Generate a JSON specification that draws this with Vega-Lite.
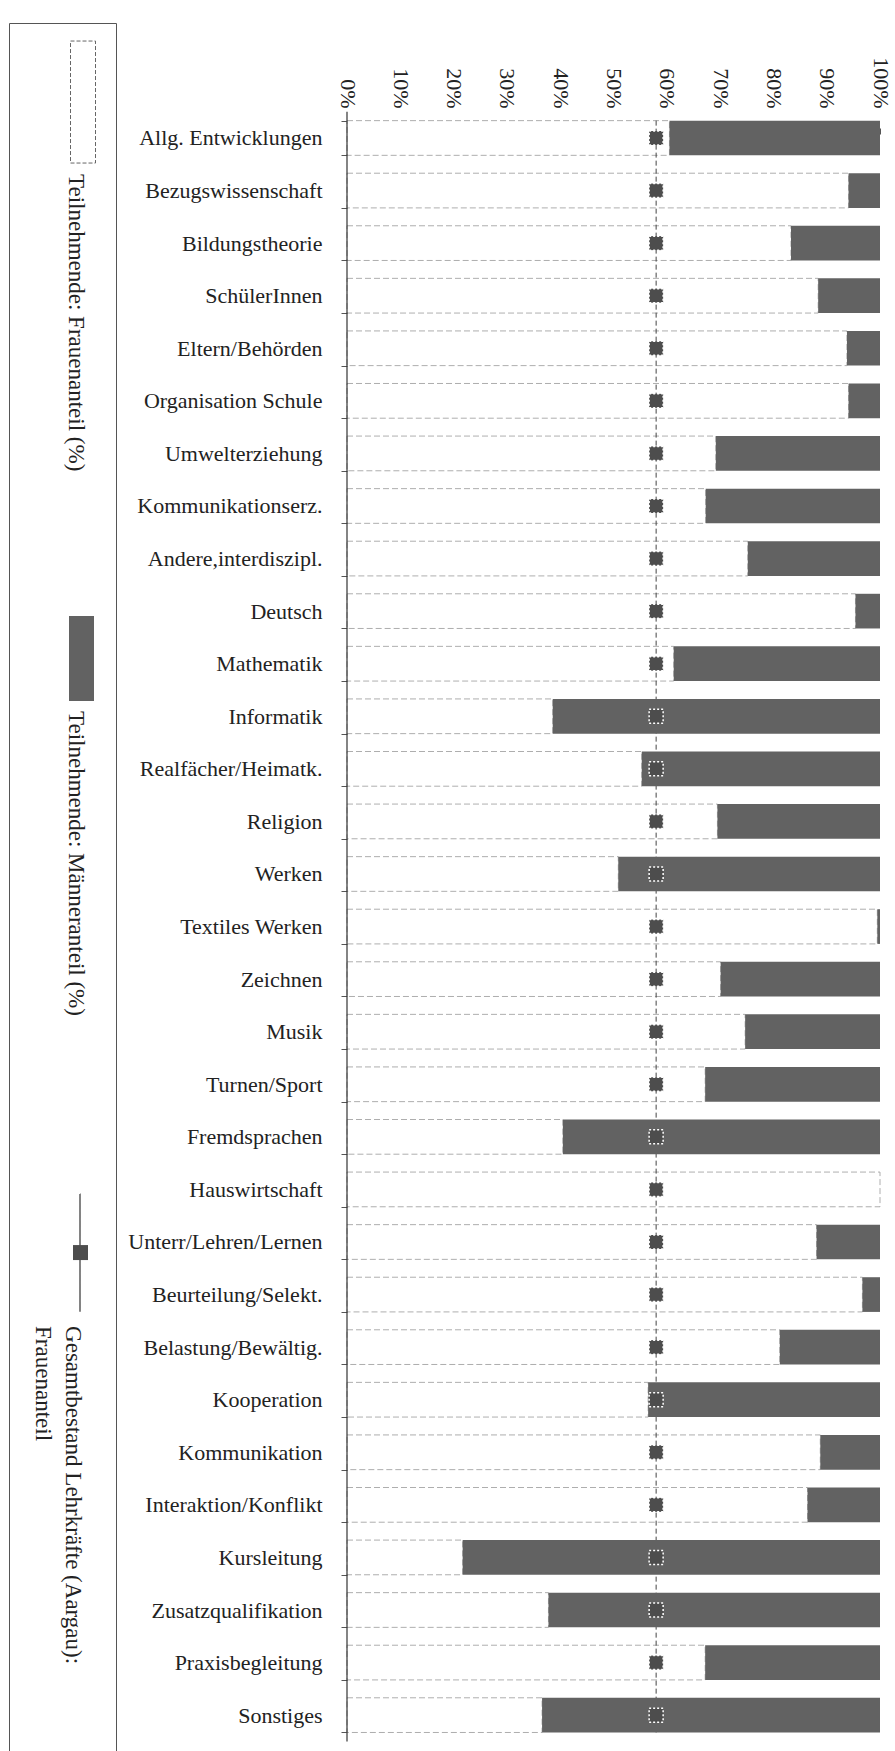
{
  "$schema": "https://vega.github.io/schema/vega-lite/v6.json",
  "padding": {"left": 8, "top": 12, "right": 5, "bottom": 5},
  "background": "white",
  "spacing": 10,
  "config": {"view": {"stroke": null}, "font": "Liberation Serif"},
  "hconcat": [
    {
      "width": 107,
      "height": 1733,
      "view": {"stroke": "#555", "strokeWidth": 1},
      "data": {"values": [
        {"eintrag": "Frauen", "text": "Teilnehmende: Frauenanteil (%)"},
        {"eintrag": "Männer", "text": "Teilnehmende: Männeranteil (%)"},
        {"eintrag": "Gesamt", "text": "Gesamtbestand Lehrkräfte (Aargau):\nFrauenanteil"}
      ]},
      "encoding": {
        "y": {"field": "eintrag", "type": "nominal", "sort": null,
              "scale": {"type": "band", "domain": ["Frauen", "Männer", "Gesamt"], "paddingInner": 0, "paddingOuter": 0},
              "axis": null},
        "x": {"datum": "Legende", "type": "nominal", "scale": {"type": "point", "domain": ["Legende"], "padding": 0}, "axis": null}
      },
      "layer": [
        {
          "transform": [{"filter": "datum.eintrag === 'Frauen'"}],
          "mark": {"type": "rect", "width": 25, "height": 122, "xOffset": 20.5, "yOffset": -209.8, "fill": "white", "stroke": "#666", "strokeWidth": 1, "strokeDash": [4, 2]}
        },
        {
          "transform": [{"filter": "datum.eintrag === 'Männer'"}],
          "mark": {"type": "rect", "width": 25, "height": 85, "xOffset": 19, "yOffset": -231, "fill": "#626262"}
        },
        {
          "transform": [{"filter": "datum.eintrag === 'Gesamt'"}],
          "mark": {"type": "rect", "width": 0.01, "height": 117, "xOffset": 17.5, "yOffset": -214.6, "fill": "transparent", "stroke": "#333", "strokeWidth": 1.2, "strokeDash": [6, 3]}
        },
        {
          "transform": [{"filter": "datum.eintrag === 'Gesamt'"}],
          "mark": {"type": "point", "shape": "square", "size": 225, "filled": true, "fill": "#4d4d4d", "opacity": 1, "xOffset": 18, "yOffset": -214.6}
        },
        {
          "transform": [{"filter": "datum.eintrag === 'Frauen'"}],
          "mark": {"type": "text", "angle": 90, "align": "left", "baseline": "alphabetic", "font": "Liberation Serif", "fontSize": 23, "color": "#222", "xOffset": 6.5, "yOffset": -137.8},
          "encoding": {"text": {"field": "text"}}
        },
        {
          "transform": [{"filter": "datum.eintrag === 'Männer'"}],
          "mark": {"type": "text", "angle": 90, "align": "left", "baseline": "alphabetic", "font": "Liberation Serif", "fontSize": 23, "color": "#222", "xOffset": 6.5, "yOffset": -178.5},
          "encoding": {"text": {"field": "text"}}
        },
        {
          "transform": [{"filter": "datum.eintrag === 'Gesamt'"}],
          "mark": {"type": "text", "angle": 90, "align": "left", "baseline": "alphabetic", "font": "Liberation Serif", "fontSize": 23, "color": "#222", "xOffset": 3.5, "yOffset": -141.1, "lineBreak": "\n", "lineHeight": 30},
          "encoding": {"text": {"field": "text"}}
        }
      ]
    },
    {
      "width": 533,
      "height": 1717,
      "data": {"values": [
        {"kategorie": "Allg. Entwicklungen", "frauen": 60.5, "gesamt": 58},
        {"kategorie": "Bezugswissenschaft", "frauen": 94.1, "gesamt": 58},
        {"kategorie": "Bildungstheorie", "frauen": 83.3, "gesamt": 58},
        {"kategorie": "SchülerInnen", "frauen": 88.4, "gesamt": 58},
        {"kategorie": "Eltern/Behörden", "frauen": 93.8, "gesamt": 58},
        {"kategorie": "Organisation Schule", "frauen": 94.1, "gesamt": 58},
        {"kategorie": "Umwelterziehung", "frauen": 69.2, "gesamt": 58},
        {"kategorie": "Kommunikationserz.", "frauen": 67.3, "gesamt": 58},
        {"kategorie": "Andere,interdiszipl.", "frauen": 75.2, "gesamt": 58},
        {"kategorie": "Deutsch", "frauen": 95.4, "gesamt": 58},
        {"kategorie": "Mathematik", "frauen": 61.3, "gesamt": 58},
        {"kategorie": "Informatik", "frauen": 38.6, "gesamt": 58},
        {"kategorie": "Realfächer/Heimatk.", "frauen": 55.3, "gesamt": 58},
        {"kategorie": "Religion", "frauen": 69.5, "gesamt": 58},
        {"kategorie": "Werken", "frauen": 50.9, "gesamt": 58},
        {"kategorie": "Textiles Werken", "frauen": 99.5, "gesamt": 58},
        {"kategorie": "Zeichnen", "frauen": 70.1, "gesamt": 58},
        {"kategorie": "Musik", "frauen": 74.7, "gesamt": 58},
        {"kategorie": "Turnen/Sport", "frauen": 67.2, "gesamt": 58},
        {"kategorie": "Fremdsprachen", "frauen": 40.5, "gesamt": 58},
        {"kategorie": "Hauswirtschaft", "frauen": 100, "gesamt": 58},
        {"kategorie": "Unterr/Lehren/Lernen", "frauen": 88.1, "gesamt": 58},
        {"kategorie": "Beurteilung/Selekt.", "frauen": 96.7, "gesamt": 58},
        {"kategorie": "Belastung/Bewältig.", "frauen": 81.2, "gesamt": 58},
        {"kategorie": "Kooperation", "frauen": 56.5, "gesamt": 58},
        {"kategorie": "Kommunikation", "frauen": 88.8, "gesamt": 58},
        {"kategorie": "Interaktion/Konflikt", "frauen": 86.4, "gesamt": 58},
        {"kategorie": "Kursleitung", "frauen": 21.7, "gesamt": 58},
        {"kategorie": "Zusatzqualifikation", "frauen": 37.8, "gesamt": 58},
        {"kategorie": "Praxisbegleitung", "frauen": 67.2, "gesamt": 58},
        {"kategorie": "Sonstiges", "frauen": 36.6, "gesamt": 58}
      ]},
      "layer": [
        {
          "mark": {"type": "bar", "fill": "white", "stroke": "#999", "strokeWidth": 0.8, "strokeDash": [6, 3]},
          "encoding": {
            "x": {"field": "frauen", "type": "quantitative",
                  "scale": {"domain": [0, 100], "nice": false, "zero": true},
                  "axis": {"orient": "top", "offset": -111, "values": [0, 10, 20, 30, 40, 50, 60, 70, 80, 90, 100],
                           "labelExpr": "datum.value + '%'", "labelAngle": 90, "labelAlign": "right", "labelBaseline": "middle",
                           "labelPadding": 20, "tickSize": 6, "grid": false, "title": null, "labelOverlap": false,
                           "domainColor": "#555", "domainDash": [10, 3], "tickColor": "#555",
                           "labelFont": "Liberation Serif", "labelFontSize": 22, "labelColor": "#222"}},
            "y": {"field": "kategorie", "type": "nominal", "sort": null,
                  "scale": {"domain": ["Allg. Entwicklungen", "Bezugswissenschaft", "Bildungstheorie", "SchülerInnen", "Eltern/Behörden", "Organisation Schule", "Umwelterziehung", "Kommunikationserz.", "Andere,interdiszipl.", "Deutsch", "Mathematik", "Informatik", "Realfächer/Heimatk.", "Religion", "Werken", "Textiles Werken", "Zeichnen", "Musik", "Turnen/Sport", "Fremdsprachen", "Hauswirtschaft", "Unterr/Lehren/Lernen", "Beurteilung/Selekt.", "Belastung/Bewältig.", "Kooperation", "Kommunikation", "Interaktion/Konflikt", "Kursleitung", "Zusatzqualifikation", "Praxisbegleitung", "Sonstiges"],
                            "paddingInner": 0.34, "paddingOuter": 1.2435, "align": 0.9286},
                  "axis": {"title": null, "domain": false, "ticks": true, "tickBand": "extent", "tickSize": 6, "tickColor": "#555",
                           "labelPadding": 19, "labelFont": "Liberation Serif", "labelFontSize": 22, "labelColor": "#222", "labelLimit": 400}}
          }
        },
        {
          "transform": [{"filter": "datum.kategorie === 'Sonstiges'"}],
          "mark": {"type": "rule", "color": "#444", "strokeDash": [5, 3], "strokeWidth": 1},
          "encoding": {
            "x": {"field": "gesamt", "type": "quantitative"},
            "y": {"datum": "Allg. Entwicklungen", "type": "nominal", "bandPosition": 0},
            "y2": {"datum": "Sonstiges", "bandPosition": 1}
          }
        },
        {
          "mark": {"type": "bar", "color": "#626262"},
          "encoding": {
            "x": {"field": "frauen", "type": "quantitative"},
            "x2": {"datum": 100},
            "y": {"field": "kategorie", "type": "nominal", "sort": null}
          }
        },
        {
          "transform": [{"filter": "datum.kategorie === 'Sonstiges'"}],
          "mark": {"type": "rule", "color": "#333", "strokeWidth": 1.2},
          "encoding": {
            "x": {"datum": 0, "type": "quantitative"},
            "y": {"datum": "Allg. Entwicklungen", "type": "nominal", "bandPosition": -0.257},
            "y2": {"datum": "Sonstiges", "bandPosition": 1.257}
          }
        },
        {
          "mark": {"type": "point", "shape": "square", "size": 196, "filled": true, "fill": "#4d4d4d", "opacity": 1, "stroke": "white", "strokeWidth": 1.5, "strokeDash": [2, 2]},
          "encoding": {
            "x": {"field": "gesamt", "type": "quantitative"},
            "y": {"field": "kategorie", "type": "nominal", "sort": null}
          }
        }
      ]
    }
  ]
}
